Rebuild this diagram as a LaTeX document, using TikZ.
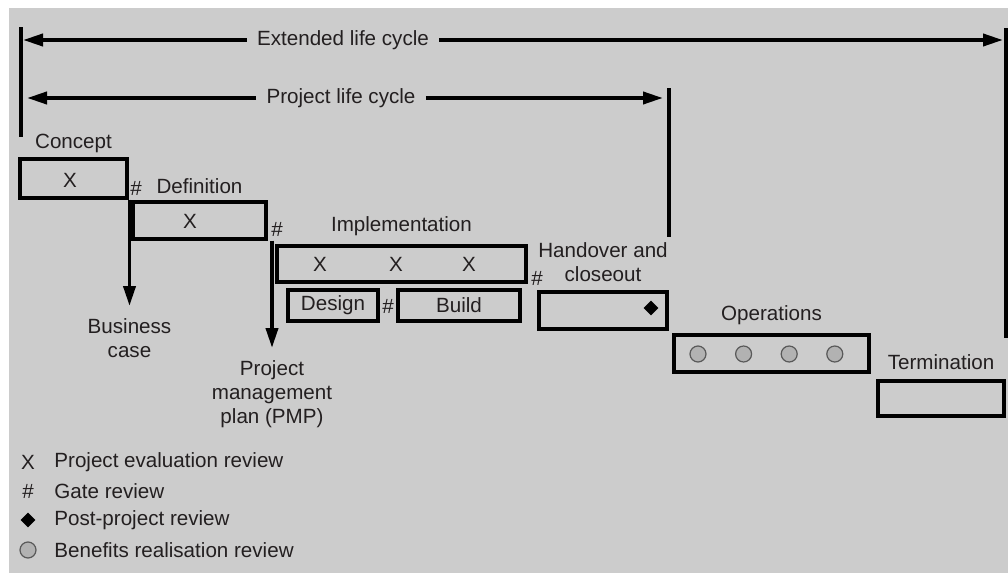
\documentclass[tikz,border=0pt]{standalone}
\usepackage{fontspec}
\setmainfont{Liberation Sans}
\usepackage{tikz}
\usetikzlibrary{arrows.meta, positioning, shapes.geometric}

\definecolor{sheet}{RGB}{204,204,204}
\definecolor{ink}{RGB}{35,31,32}
\definecolor{dot}{RGB}{178,178,178}

\begin{document}
\begin{tikzpicture}[x=0.5pt, y=-0.5pt, on grid,
    font=\fontsize{10.3}{12}\selectfont, text=ink,
    phase/.style={draw=black, line width=1.7pt, inner sep=0pt},
    title/.style={inner sep=1pt, align=center},
    span/.style={inner xsep=5pt, inner ysep=1pt},
    flow/.style={line width=1.9pt, -{Triangle[length=10pt,width=6pt]}},
    bar/.style={line width=1.7pt},
    gate/.style={font=\fontsize{10.3}{12}\selectfont, inner sep=0pt},
    outcome/.style={align=center, anchor=north, inner sep=6pt},
    benefit/.style={circle, draw=black!65, fill=dot, line width=0.6pt, minimum size=8pt, inner sep=0pt},
    postreview/.style={diamond, fill=black, minimum size=7.5pt, inner sep=0pt},
    key/.style={anchor=west, inner sep=1pt}]

    \useasboundingbox (0,0) rectangle (1008,573);
    \fill[sheet] (9,8) rectangle (1008,573);

    % life cycles
    \node[span] (ext) at (343,40) {Extended life cycle};
    \coordinate (extstart) at (23,40);
    \coordinate (extend) at (1003,40);
    \draw[flow] (ext) -- (extstart);
    \draw[flow] (ext) -- (extend);

    \node[span] (plc) at (341,98) {Project life cycle};
    \coordinate (plcstart) at (27,98);
    \coordinate (plcend) at (663,98);
    \draw[flow] (plc) -- (plcstart);
    \draw[flow] (plc) -- (plcend);

    \draw[bar] (21,27) -- (21,137);
    \draw[bar] (669,88) -- (669,237);
    \draw[bar] (1006,28) -- (1006,338);

    % phases
    \node[phase, minimum width=53.5pt, minimum height=19.5pt] (concept) at (73.5,178.5) {};
    \node[title] (conceptname) [above=17.75pt of concept] {Concept};
    \node (conceptx) at (70,180) {X};

    \node[phase, minimum width=66.5pt, minimum height=18.5pt] (definition) at (199.5,220.5) {};
    \node[title] (definitionname) [above=17.25pt of definition] {Definition};
    \node (definitionx) at (190,221) {X};

    \node[phase, minimum width=124.5pt, minimum height=18pt] (implementation) at (401.5,264) {};
    \node[title] (implementationname) [above=18.75pt of implementation] {Implementation};
    \node (implx1) at (320,264) {X};
    \node (implx2) [right=38pt of implx1] {X};
    \node (implx3) [right=36.5pt of implx2] {X};

    \node[phase, minimum width=45pt, minimum height=15.5pt] (design) at (333,305.5) {Design};
    \node[phase, minimum width=61pt, minimum height=15.5pt] (build) at (459,305.5) {Build};

    \node[phase, minimum width=64pt, minimum height=18.5pt] (handover) at (603,310.5) {};
    \node[title] (handovername) [above=24.25pt of handover] {Handover and\\closeout};
    \node[postreview] (post) at (651,308) {};

    \node[phase, minimum width=97.5pt, minimum height=18.5pt] (operations) at (771.5,353.5) {};
    \node[title] (operationsname) [above=19.25pt of operations] {Operations};
    \node[benefit] (ben1) at (698,354) {};
    \node[benefit] (ben2) [right=22.8pt of ben1] {};
    \node[benefit] (ben3) [right=22.8pt of ben2] {};
    \node[benefit] (ben4) [right=22.8pt of ben3] {};

    \node[phase, minimum width=63pt, minimum height=17.5pt] (termination) at (941,398.5) {};
    \node[title] (terminationname) [above=18.25pt of termination] {Termination};

    % gate reviews
    \node[gate] (gate1) at (136,188) {\#};
    \node[gate] (gate2) at (277,229) {\#};
    \node[gate] (gate3) at (388,306) {\#};
    \node[gate] (gate4) at (537,278) {\#};

    % outputs
    \node[outcome] (bcase) at (129.5,306) {Business\\case};
    \node[outcome] (pmp) at (272,348) {Project\\management\\plan (PMP)};
    \draw[flow] (concept.south -| bcase.north) -- (bcase.north);
    \draw[flow] (definition.south -| pmp.north) -- (pmp.north);

    % key
    \node (xkey) at (28,462) {X};
    \node[gate] (gatekey) [below=14.5pt of xkey] {\#};
    \node[postreview] (postkey) [below=14.5pt of gatekey] {};
    \node[benefit] (benkey) [below=15pt of postkey] {};
    \node (xtext) [right=12pt of xkey, key] {Project evaluation review};
    \node (gatetext) [right=12pt of gatekey, key] {Gate review};
    \node (posttext) [right=12pt of postkey, key] {Post-project review};
    \node (bentext) [right=12pt of benkey, key] {Benefits realisation review};
\end{tikzpicture}
\end{document}
